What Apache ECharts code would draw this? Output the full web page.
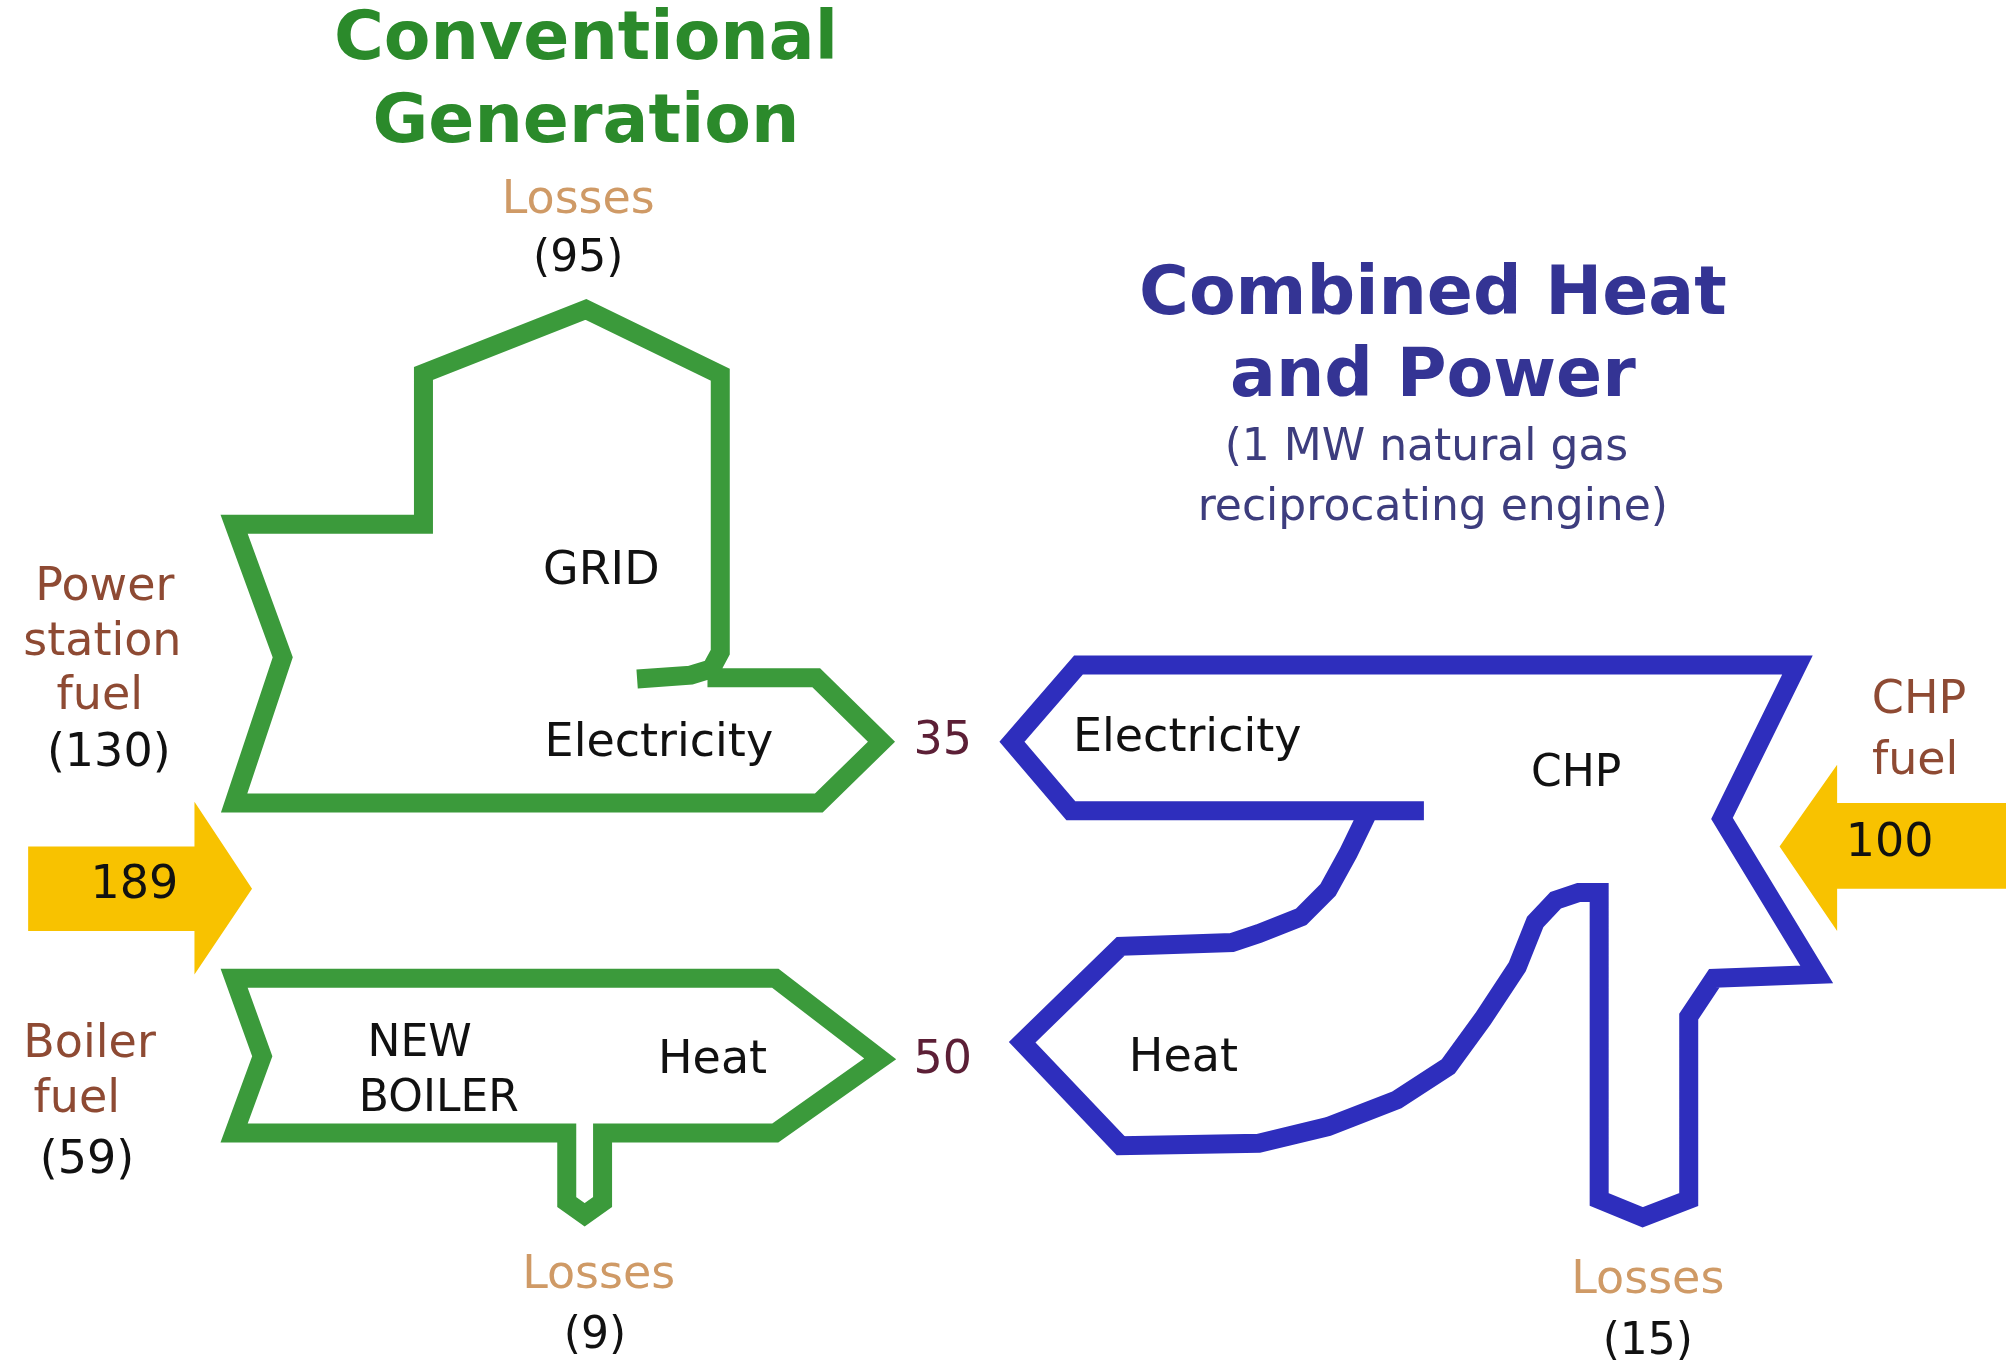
<!DOCTYPE html>
<html>
<head>
<meta charset="utf-8">
<script src="https://cdn.jsdelivr.net/npm/echarts@6/dist/echarts.min.js"></script>
<style>html,body{margin:0;padding:0;background:#fff}#chart{width:2006px;height:1367px}</style>
</head>
<body>
<div id="chart"></div>
<script>
// ---- values ----
const conventionalInputs = ['Power station fuel', 'Boiler fuel'];
const conventionalInputValues = [130, 59];
const conventionalTotal = 189;
const conventionalLosses = [95, 9];
const chpFuel = 100;
const chpLosses = 15;
const outputs = ['Electricity', 'Heat'];
const outputValues = [35, 50];

// ---- diagram outlines (diagram units) ----
const gridOutline = [[498,531],[540,528],[556,523],[563,510],[563,293],[458,242],[331,292],[331,410],[183,410],[221,514],[183,628],[640,628],[689,580],[638,530],[553,530]];
const boilerOutline = [[400,765],[606,765],[688,828],[606,886],[471,886],[471,940],[457,950],[443,940],[443,886],[183,886],[205,826],[183,765],[400,765]];
const chpOutline = [[1068,638],[1054,667],[1038,696],[1017,717],[984,730],[963,737],[876,740],[799,815],[876,896],[984,894],[1038,881],[1092,860],[1132,834],[1159,797],[1186,756],[1200,721],[1216,704],[1234,698],[1250,698],[1250,938],[1284,952],[1320,938],[1320,795],[1340,765],[1420,762],[1346,640],[1405,520],[843,520],[791,580],[837,634],[1113,634]];
const leftFuelArrow = [[22,662],[152,662],[152,627],[197,695],[152,762],[152,728],[22,728]];
const rightFuelArrow = [[1568,628],[1436,628],[1436,598],[1391,662],[1436,728],[1436,695],[1568,695]];

const GREEN = '#3b9a3b', BLUE = '#2e2ebd', YELLOW = '#f8c200';
const BROWN = '#8e4a33', TAN = '#cf9a66', MAROON = '#5c1f36', DARKGREEN = '#2b8a2b', DARKBLUE = '#343494', SUBBLUE = '#3d3d7e';

// label layout: [text, x, y, color, size, weight]
const labels = [
  ['Conventional', 458, 32, DARKGREEN, 68, 'bold'],
  ['Generation', 458, 97, DARKGREEN, 68, 'bold'],
  ['Losses', 452, 157, TAN, 46, 'normal'],
  ['(' + conventionalLosses[0] + ')', 452, 203, '#111', 44, 'normal'],
  ['GRID', 470, 447, '#111', 46, 'normal'],
  ['Electricity', 515, 582, '#111', 46, 'normal'],
  [String(outputValues[0]), 737, 580, MAROON, 46, 'normal'],
  ['Power', 82, 460, BROWN, 46, 'normal'],
  ['station', 80, 503, BROWN, 46, 'normal'],
  ['fuel', 78, 545, BROWN, 46, 'normal'],
  ['(' + conventionalInputValues[0] + ')', 85, 590, '#111', 46, 'normal'],
  [String(conventionalTotal), 105, 693, '#111', 46, 'normal'],
  ['Boiler', 70, 817, BROWN, 46, 'normal'],
  ['fuel', 60, 860, BROWN, 46, 'normal'],
  ['(' + conventionalInputValues[1] + ')', 68, 908, '#111', 46, 'normal'],
  ['NEW', 328, 817, '#111', 44, 'normal'],
  ['BOILER', 343, 860, '#111', 44, 'normal'],
  ['Heat', 557, 830, '#111', 46, 'normal'],
  [String(outputValues[1]), 737, 830, MAROON, 46, 'normal'],
  ['Losses', 468, 998, TAN, 46, 'normal'],
  ['(' + conventionalLosses[1] + ')', 465, 1045, '#111', 44, 'normal'],
  ['Combined Heat', 1120, 232, DARKBLUE, 68, 'bold'],
  ['and Power', 1120, 296, DARKBLUE, 68, 'bold'],
  ['(1 MW natural gas', 1115, 351, SUBBLUE, 44, 'normal'],
  ['reciprocating engine)', 1120, 398, SUBBLUE, 44, 'normal'],
  ['Electricity', 928, 578, '#111', 46, 'normal'],
  ['CHP', 1232, 606, '#111', 44, 'normal'],
  ['Heat', 925, 828, '#111', 46, 'normal'],
  ['CHP', 1500, 548, BROWN, 46, 'normal'],
  ['fuel', 1497, 596, BROWN, 46, 'normal'],
  [String(chpFuel), 1477, 660, '#111', 46, 'normal'],
  ['Losses', 1288, 1002, TAN, 46, 'normal'],
  ['(' + chpLosses + ')', 1288, 1050, '#111', 44, 'normal']
];

const chart = echarts.init(document.getElementById('chart'), null, {renderer: 'canvas'});

function outlineSeries(name, pts, color, width) {
  return {
    type: 'line', name: name, data: pts, symbol: 'none', silent: true, z: 3,
    lineStyle: {color: color, width: width, join: 'miter', cap: 'butt'},
    animation: false
  };
}

const arrowShapes = [leftFuelArrow, rightFuelArrow];

chart.setOption({
  backgroundColor: '#ffffff',
  animation: false,
  grid: {left: 0, right: 0, top: 0, bottom: 0},
  xAxis: {type: 'value', min: 0, max: 1568, show: false},
  yAxis: {type: 'value', min: 0, max: 1069, inverse: true, show: false},
  series: [
    {
      type: 'custom', name: 'fuel arrows', z: 1, silent: true,
      data: arrowShapes.map((s, i) => [i]),
      renderItem: function (params, api) {
        const pts = arrowShapes[params.dataIndex].map(p => api.coord(p));
        return {type: 'polygon', shape: {points: pts}, style: {fill: YELLOW}};
      }
    },
    outlineSeries('grid', gridOutline, GREEN, 19),
    outlineSeries('boiler', boilerOutline, GREEN, 19),
    outlineSeries('chp', chpOutline, BLUE, 19),
    {
      type: 'custom', name: 'labels', z: 5, silent: true,
      data: labels.map((l, i) => [i]),
      renderItem: function (params, api) {
        const l = labels[params.dataIndex];
        const c = api.coord([l[1], l[2]]);
        return {
          type: 'text', x: c[0], y: c[1],
          style: {
            text: l[0], fill: l[3], fontSize: l[4], fontWeight: l[5],
            fontFamily: 'DejaVu Sans', align: 'center', verticalAlign: 'middle'
          }
        };
      }
    }
  ]
});
</script>
</body>
</html>
